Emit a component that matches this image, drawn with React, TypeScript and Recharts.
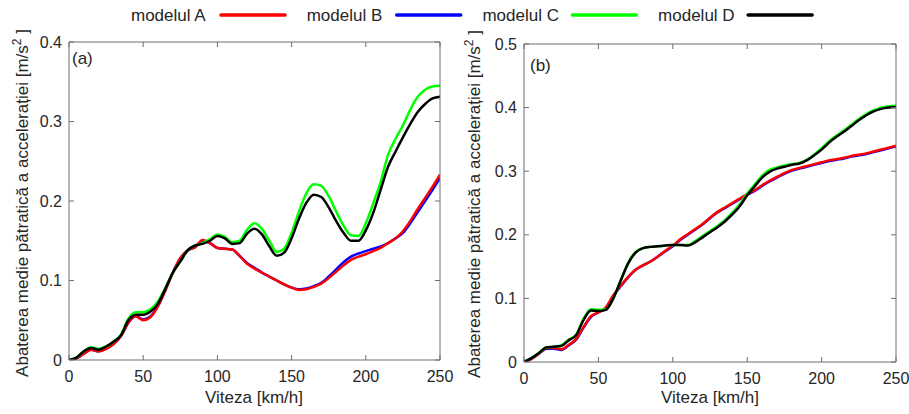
import React from 'react';
import { LineChart, Line, XAxis, YAxis } from 'recharts';

// speeds [km/h]
const speeds = [0, 5, 10, 15, 20, 25, 30, 35, 40, 45, 50, 55, 60, 65, 70, 75, 80, 85, 90, 95, 100,
  105, 110, 115, 120, 125, 130, 135, 140, 145, 150, 155, 160, 165, 170, 175, 180, 185, 190, 195, 200,
  205, 210, 215, 220, 225, 230, 235, 240, 245, 250];

// panel (a)
const leftA = [0, 0.002, 0.008, 0.013, 0.011, 0.014, 0.02, 0.03, 0.047, 0.055, 0.05, 0.054, 0.068, 0.088, 0.11, 0.128, 0.138, 0.142, 0.151, 0.147, 0.141,
  0.14, 0.139, 0.131, 0.121, 0.115, 0.11, 0.105, 0.1, 0.095, 0.091, 0.088, 0.089, 0.092, 0.096, 0.103, 0.111, 0.119, 0.126, 0.13, 0.133,
  0.137, 0.141, 0.147, 0.153, 0.162, 0.175, 0.19, 0.204, 0.218, 0.233];
const leftB = [0, 0.002, 0.008, 0.013, 0.011, 0.014, 0.02, 0.03, 0.047, 0.055, 0.051, 0.055, 0.068, 0.088, 0.11, 0.128, 0.138, 0.142, 0.15, 0.147, 0.141,
  0.14, 0.139, 0.131, 0.122, 0.116, 0.11, 0.105, 0.1, 0.095, 0.091, 0.089, 0.09, 0.093, 0.097, 0.105, 0.114, 0.123, 0.13, 0.134, 0.137,
  0.14, 0.143, 0.147, 0.153, 0.16, 0.172, 0.186, 0.2, 0.214, 0.229];
const leftC = [0, 0.003, 0.011, 0.016, 0.014, 0.017, 0.023, 0.032, 0.052, 0.06, 0.06, 0.064, 0.074, 0.091, 0.11, 0.124, 0.138, 0.144, 0.147, 0.152, 0.158,
  0.155, 0.148, 0.15, 0.164, 0.172, 0.165, 0.15, 0.136, 0.14, 0.16, 0.187, 0.21, 0.221, 0.219, 0.206, 0.187, 0.169, 0.157, 0.156, 0.172,
  0.197, 0.224, 0.258, 0.278, 0.295, 0.315, 0.331, 0.34, 0.344, 0.345];
const leftD = [0, 0.003, 0.011, 0.015, 0.013, 0.017, 0.023, 0.031, 0.05, 0.057, 0.057, 0.061, 0.071, 0.09, 0.11, 0.124, 0.138, 0.144, 0.146, 0.15, 0.156,
  0.153, 0.146, 0.147, 0.159, 0.165, 0.158, 0.143, 0.131, 0.135, 0.153, 0.178, 0.198, 0.208, 0.205, 0.192, 0.175, 0.16, 0.15, 0.15, 0.163,
  0.185, 0.214, 0.243, 0.262, 0.28, 0.297, 0.312, 0.322, 0.329, 0.331];

// panel (b)
const rightA = [0, 0.005, 0.013, 0.022, 0.022, 0.02, 0.027, 0.036, 0.055, 0.072, 0.078, 0.086, 0.105, 0.12, 0.134, 0.145, 0.152, 0.158, 0.166, 0.175, 0.183,
  0.193, 0.201, 0.209, 0.217, 0.227, 0.236, 0.243, 0.25, 0.257, 0.264, 0.27, 0.278, 0.285, 0.291, 0.297, 0.302, 0.305, 0.308, 0.311, 0.314,
  0.317, 0.319, 0.321, 0.324, 0.326, 0.328, 0.331, 0.334, 0.337, 0.34];
const rightB = [0, 0.005, 0.013, 0.021, 0.021, 0.019, 0.026, 0.035, 0.054, 0.071, 0.078, 0.085, 0.104, 0.119, 0.133, 0.145, 0.152, 0.158, 0.166, 0.174, 0.182,
  0.192, 0.2, 0.208, 0.216, 0.226, 0.235, 0.242, 0.249, 0.256, 0.263, 0.269, 0.277, 0.284, 0.29, 0.296, 0.301, 0.304, 0.307, 0.31, 0.313,
  0.316, 0.318, 0.32, 0.323, 0.325, 0.327, 0.33, 0.333, 0.336, 0.339];
const rightC = [0, 0.006, 0.014, 0.023, 0.024, 0.026, 0.035, 0.043, 0.068, 0.083, 0.082, 0.083, 0.1, 0.128, 0.156, 0.173, 0.179, 0.181, 0.182, 0.183, 0.184,
  0.184, 0.184, 0.19, 0.198, 0.206, 0.214, 0.223, 0.235, 0.248, 0.265, 0.279, 0.293, 0.302, 0.306, 0.309, 0.311, 0.313, 0.318, 0.326, 0.336,
  0.347, 0.356, 0.364, 0.373, 0.382, 0.39, 0.396, 0.4, 0.402, 0.403];
const rightD = [0, 0.006, 0.014, 0.023, 0.024, 0.025, 0.034, 0.042, 0.066, 0.081, 0.08, 0.082, 0.1, 0.128, 0.155, 0.172, 0.179, 0.181, 0.182, 0.183, 0.184,
  0.184, 0.183, 0.188, 0.196, 0.204, 0.212, 0.221, 0.232, 0.245, 0.262, 0.276, 0.29, 0.299, 0.304, 0.307, 0.31, 0.312, 0.317, 0.325, 0.334,
  0.345, 0.354, 0.362, 0.371, 0.38, 0.388, 0.394, 0.398, 0.4, 0.401];

const xTicks = [0, 50, 100, 150, 200, 250];
const leftYTicks = [0, 0.1, 0.2, 0.3, 0.4];
const rightYTicks = [0, 0.1, 0.2, 0.3, 0.4, 0.5];

const seriesKeys = ['A', 'B', 'C', 'D'];
const seriesNames = ['modelul A', 'modelul B', 'modelul C', 'modelul D'];
const seriesColors = ['#ff0000', '#0000ff', '#00ff00', '#000000'];
// drawing order (blue below red, green below black)
const drawOrder = [1, 0, 2, 3];

const panelLabels = ['(a)', '(b)'];
const xTitle = 'Viteza [km/h]';
const yTitleMain = 'Abaterea medie pătratică a accelerației [m/s';
const yTitleSup = '2';
const yTitleEnd = ' ]';

const FONT = '"Liberation Sans", Arial, sans-serif';
const TEXT = '#262626';
const AXIS = '#6e6e6e';

function buildRows(a: number[], b: number[], c: number[], d: number[]) {
  return speeds.map((v, i) => ({ v, A: a[i], B: b[i], C: c[i], D: d[i] }));
}

const leftRows = buildRows(leftA, leftB, leftC, leftD);
const rightRows = buildRows(rightA, rightB, rightC, rightD);

const fmt = (v: number) => (v === 0 ? '0' : String(v));
const blank = () => '';

type PanelProps = {
  rows: any[];
  yMax: number;
  yTicks: number[];
  width: number;
  height: number;
  margin: { top: number; right: number; bottom: number; left: number };
};

function Panel({ rows, yMax, yTicks, width, height, margin }: PanelProps) {
  const tickStyle = { fill: TEXT, fontSize: 16, fontFamily: FONT };
  return (
    <LineChart width={width} height={height} data={rows} margin={margin}>
      <XAxis
        dataKey="v"
        type="number"
        domain={[0, 250]}
        ticks={xTicks}
        height={1}
        tickSize={-5}
        tickMargin={16}
        tickFormatter={fmt}
        tick={tickStyle}
        stroke={AXIS}
        allowDataOverflow
      />
      <XAxis
        xAxisId="top"
        orientation="top"
        dataKey="v"
        type="number"
        domain={[0, 250]}
        ticks={xTicks}
        height={1}
        tickSize={-5}
        tickFormatter={blank}
        stroke={AXIS}
        allowDataOverflow
      />
      <YAxis
        type="number"
        domain={[0, yMax]}
        ticks={yTicks}
        width={1}
        tickSize={-5}
        tickMargin={12}
        tickFormatter={fmt}
        tick={tickStyle}
        stroke={AXIS}
        allowDataOverflow
      />
      <YAxis
        yAxisId="right"
        orientation="right"
        type="number"
        domain={[0, yMax]}
        ticks={yTicks}
        width={1}
        tickSize={-5}
        tickFormatter={blank}
        stroke={AXIS}
        allowDataOverflow
      />
      {drawOrder.map((i) => (
        <Line
          key={seriesKeys[i]}
          dataKey={seriesKeys[i]}
          name={seriesNames[i]}
          type="monotone"
          stroke={seriesColors[i]}
          strokeWidth={2.5}
          dot={false}
          activeDot={false}
          isAnimationActive={false}
        />
      ))}
    </LineChart>
  );
}

function YTitle({ x, y }: { x: number; y: number }) {
  return (
    <text
      x={x}
      y={y}
      transform={`rotate(-90, ${x}, ${y})`}
      textAnchor="middle"
      fontSize={17}
      fontFamily={FONT}
      fill={TEXT}
    >
      {yTitleMain}
      <tspan dy={-7} fontSize={12}>{yTitleSup}</tspan>
      <tspan dy={7}>{yTitleEnd}</tspan>
    </text>
  );
}

export default function App() {
  return (
    <div style={{ position: 'absolute', left: 0, top: 0, width: 909, height: 414, background: '#fff', fontFamily: FONT }}>
      <div style={{ position: 'absolute', left: 0, top: 0 }}>
        <Panel rows={leftRows} yMax={0.4} yTicks={leftYTicks} width={460} height={414}
          margin={{ top: 41, right: 19, bottom: 53, left: 68 }} />
      </div>
      <div style={{ position: 'absolute', left: 455, top: 0 }}>
        <Panel rows={rightRows} yMax={0.5} yTicks={rightYTicks} width={454} height={414}
          margin={{ top: 43, right: 12, bottom: 51, left: 68 }} />
      </div>
      <svg width={909} height={414} style={{ position: 'absolute', left: 0, top: 0, pointerEvents: 'none' }}>
        {/* legend */}
        {seriesNames.map((name, i) => {
          const x0 = 131 + i * 175.7;
          return (
            <g key={name}>
              <text x={x0} y={21} fontSize={17} fontFamily={FONT} fill={TEXT}>{name}</text>
              <line x1={x0 + 90} x2={x0 + 154} y1={15} y2={15} stroke={seriesColors[i]} strokeWidth={3.5} strokeLinecap="round" />
            </g>
          );
        })}
        {/* panel labels */}
        <text x={72} y={64} fontSize={17} fontFamily={FONT} fill={TEXT}>{panelLabels[0]}</text>
        <text x={530} y={71} fontSize={17} fontFamily={FONT} fill={TEXT}>{panelLabels[1]}</text>
        {/* x titles */}
        <text x={254} y={403} textAnchor="middle" fontSize={17} fontFamily={FONT} fill={TEXT}>{xTitle}</text>
        <text x={710} y={403} textAnchor="middle" fontSize={17} fontFamily={FONT} fill={TEXT}>{xTitle}</text>
        {/* y titles */}
        <YTitle x={28} y={203} />
        <YTitle x={480} y={204} />
      </svg>
    </div>
  );
}
